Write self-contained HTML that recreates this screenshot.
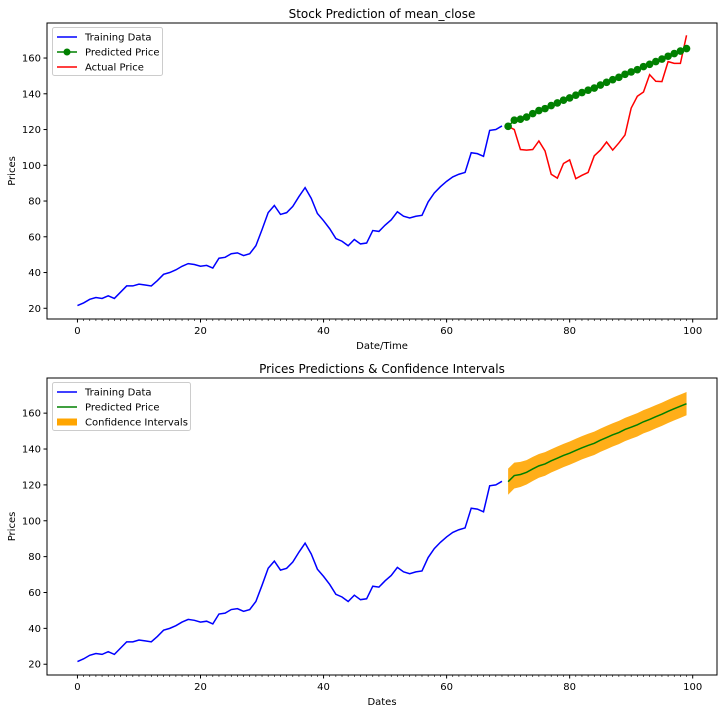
<!DOCTYPE html>
<html><head><meta charset="utf-8"><style>
body{margin:0;background:#fff;}
svg text{font-family:"DejaVu Sans","Liberation Sans",sans-serif;fill:#000;}
</style></head><body>
<svg id="chart" width="723" height="713" xmlns="http://www.w3.org/2000/svg"></svg>
<script>
const trainX = Array.from({length:70},(_,i)=>i);
const trainValues = [21.5,23,25,26,25.5,27,25.5,29,32.5,32.5,33.5,33,32.5,35.5,39,40,41.5,43.5,45,44.5,43.5,44,42.5,48,48.5,50.5,51,49.5,50.5,55,64,73.5,77.5,72.5,73.5,77,82.5,87.5,81.5,73,69,64.5,59,57.5,55,58.5,56,56.5,63.5,63,66.5,69.5,74,71.5,70.5,71.5,72,79.5,84.5,88,91,93.5,95,96,107,106.5,105,119.5,120,122];
const testX = Array.from({length:30},(_,i)=>70+i);
const predValues = [121.8,125.2,125.8,127.0,128.9,130.6,131.7,133.4,134.9,136.4,137.7,139.2,140.7,142,143.2,144.9,146.4,147.9,149.2,150.9,152.2,153.5,155.2,156.5,158,159.4,161,162.5,163.9,165.3];
const actualValues = [121.8,120,108.8,108.5,108.8,113.6,108,95,92.8,101,103,92.5,94.4,96,105.3,108.5,113,108.5,112.5,117,132,138.6,141,150.7,147,146.8,158,157,157,172.7];
const ciHalf = [7.3,7.2,7,6.8,6.7,6.6,6.6,6.5,6.5,6.5,6.5,6.5,6.5,6.5,6.5,6.5,6.5,6.5,6.5,6.5,6.5,6.5,6.5,6.5,6.5,6.5,6.5,6.5,6.5,6.5];
const xTicks = [0,20,40,60,80,100];
const yTicks = [20,40,60,80,100,120,140,160];

const NS="http://www.w3.org/2000/svg";
const svg=document.getElementById('chart');
function el(tag,attrs,parent){const e=document.createElementNS(NS,tag);for(const k in attrs)e.setAttribute(k,attrs[k]);(parent||svg).appendChild(e);return e;}

function makeAxes(top,bottom,title,xlabel,legendItems,legendW,withActual,withCI,prefix){
  const L=47,R=717;
  const x=v=>L+(v+4.95)/(108.9)*(R-L);
  const y=v=>bottom-(v-14)/(179.6-14)*(bottom-top);
  const g=el('g',{});
  
  
  if(withCI){
    let d='M'+testX.map((t,i)=>x(t)+','+y(predValues[i]+ciHalf[i])).join(' L');
    for(let i=testX.length-1;i>=0;i--) d+=' L'+x(testX[i])+','+y(predValues[i]-ciHalf[i]);
    const p=el('path',{d:d+'Z',fill:'#ffa500',opacity:'0.9'},g);
    
    
  }
  const tl=el('polyline',{points:trainX.map((t,i)=>x(t)+','+y(trainValues[i])).join(' '),fill:'none',stroke:'#0000ff','stroke-width':1.5},g);
  
  
  if(withActual){
    const al=el('polyline',{points:testX.map((t,i)=>x(t)+','+y(actualValues[i])).join(' '),fill:'none',stroke:'#ff0000','stroke-width':1.5},g);
    
    
  }
  const pl=el('polyline',{points:testX.map((t,i)=>x(t)+','+y(predValues[i])).join(' '),fill:'none',stroke:'#008000','stroke-width':1.5},g);
  
  
  if(withActual){
    testX.forEach((t,i)=>{
      const c=el('circle',{cx:x(t),cy:y(predValues[i]),r:3.8,fill:'#008000'},g);
      
      
    });
  }
  el('rect',{x:L,y:top,width:R-L,height:bottom-top,fill:'none',stroke:'#000','stroke-width':1},g);
  for(let v=0;v<=99;v++){ if(v%20!==0) el('line',{x1:x(v),x2:x(v),y1:bottom,y2:bottom+2,stroke:'#000','stroke-width':0.6},g); }
  xTicks.forEach(v=>{
    el('line',{x1:x(v),x2:x(v),y1:bottom,y2:bottom+3.5,stroke:'#000'},g);
    const t=el('text',{x:x(v),y:bottom+15,'font-size':10,'text-anchor':'middle'},g);t.textContent=v;
    
    
  });
  yTicks.forEach(v=>{
    el('line',{x1:L-3.5,x2:L,y1:y(v),y2:y(v),stroke:'#000'},g);
    const t=el('text',{x:L-6,y:y(v)+3.5,'font-size':10,'text-anchor':'end'},g);t.textContent=v;
    
    
  });
  const tt=el('text',{x:(L+R)/2,y:top-5,'font-size':12,'text-anchor':'middle'},g);tt.textContent=title;
  
  
  const xl=el('text',{x:(L+R)/2,y:bottom+30,'font-size':10,'text-anchor':'middle'},g);xl.textContent=xlabel;
  
  
  const yl=el('text',{x:0,y:0,'font-size':10,'text-anchor':'middle',transform:`translate(15,${(top+bottom)/2}) rotate(-90)`},g);yl.textContent='Prices';
  
  
  const lg=el('g',{},g);
  
  
  el('rect',{x:52.5,y:top+4.5,width:legendW,height:48,rx:2,fill:'#fff',stroke:'#ccc'},lg);
  legendItems.forEach((it,i)=>{
    const cy=top+14+i*15;
    const e=el('g',{},lg);
    
    
    if(it.type==='patch') el('rect',{x:57,y:cy-3.5,width:20,height:7,fill:'#ffa500'},e);
    else el('line',{x1:57,x2:77,y1:cy,y2:cy,stroke:it.c,'stroke-width':1.5},e);
    if(it.type==='marker') el('circle',{cx:67,cy:cy,r:3.5,fill:it.c},e);
    const t=el('text',{x:85,y:cy+3.5,'font-size':10},e);t.textContent=it.label;
  });
}
makeAxes(23,319,'Stock Prediction of mean_close','Date/Time',
  [{label:'Training Data',c:'#0000ff'},{label:'Predicted Price',c:'#008000',type:'marker'},{label:'Actual Price',c:'#ff0000'}],110,true,false,'top-chart');
makeAxes(378,675,'Prices Predictions & Confidence Intervals','Dates',
  [{label:'Training Data',c:'#0000ff'},{label:'Predicted Price',c:'#008000'},{label:'Confidence Intervals',type:'patch'}],138,false,true,'bottom-chart');
</script>
</body></html>
